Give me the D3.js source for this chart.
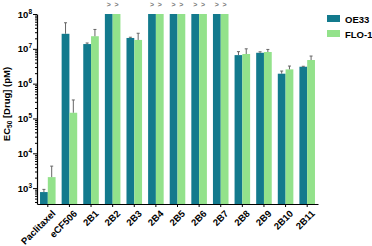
<!DOCTYPE html>
<html>
<head>
<meta charset="utf-8">
<script src="https://cdn.jsdelivr.net/npm/d3@7"></script>
<style>
  body { margin: 0; background: #fff; }
  text { font-family: Arial, "Liberation Sans", sans-serif; font-weight: bold; }
</style>
</head>
<body>
<div id="chart"></div>
<script>
const categories = ['Paclitaxel', 'eCF506', '2B1', '2B2', '2B3', '2B4', '2B5', '2B6', '2B7', '2B8', '2B9', '2B10', '2B11'];
const seriesNames = ['OE33', 'FLO-1'];
const oe33Values = [770, 2.7e7, 1.37e7, 1e8, 2.05e7, 1e8, 1e8, 1e8, 1e8, 6.6e6, 7.7e6, 1.93e6, 3.06e6];
const oe33Upper = [920, 5.6e7, 1.47e7, null, 2.15e7, null, null, null, null, 8.3e6, 8.2e6, 2.3e6, 3.15e6];
const floValues = [2070, 1.46e5, 2.3e7, 1e8, 1.8e7, 1e8, 1e8, 1e8, 1e8, 7.1e6, 8.1e6, 2.57e6, 4.77e6];
const floUpper = [4280, 3.4e5, 3.6e7, null, 2.8e7, null, null, null, null, 1.0e7, 9.6e6, 3.2e6, 6.2e6];
const aboveRange = [false, false, false, true, false, true, true, true, true, false, false, false, false];
const yTicks = [3, 4, 5, 6, 7, 8];

const width = 372, height = 246;
const colors = ['#137a8d', '#93e28b'];

const svg = d3.select('#chart').append('svg')
  .attr('width', width).attr('height', height);

const x = d3.scaleBand()
  .domain(categories)
  .range([37, 318])
  .paddingInner(0.28)
  .paddingOuter(0.14);

const xInner = d3.scaleBand()
  .domain(seriesNames)
  .range([0, x.bandwidth()]);

const y = d3.scaleLog()
  .domain([350, 1e8])
  .range([204, 14]);

const series = [
  { name: 'OE33', values: oe33Values, upper: oe33Upper },
  { name: 'FLO-1', values: floValues, upper: floUpper }
];

series.forEach((s, si) => {
  const g = svg.append('g');
  g.selectAll('rect')
    .data(categories)
    .enter()
    .append('rect')
    .attr('x', d => x(d) + xInner(s.name))
    .attr('width', xInner.bandwidth())
    .attr('y', (d, i) => y(s.values[i]))
    .attr('height', (d, i) => y.range()[0] - y(s.values[i]))
    .attr('fill', colors[si]);

  // upper error bars only
  const eb = g.selectAll('g.err')
    .data(categories.map((c, i) => ({ c, v: s.values[i], u: s.upper[i] })).filter(d => d.u))
    .enter()
    .append('g');
  const cx = d => x(d.c) + xInner(s.name) + xInner.bandwidth() / 2;
  eb.append('line')
    .attr('x1', cx).attr('x2', cx)
    .attr('y1', d => y(d.v)).attr('y2', d => y(d.u))
    .attr('stroke', '#666').attr('stroke-width', 1);
  eb.append('line')
    .attr('x1', d => cx(d) - 1.5).attr('x2', d => cx(d) + 1.5)
    .attr('y1', d => y(d.u)).attr('y2', d => y(d.u))
    .attr('stroke', '#666').attr('stroke-width', 1);

  // ">" for values above the top of the range
  g.selectAll('text.gt')
    .data(categories.filter((c, i) => aboveRange[i]))
    .enter()
    .append('text')
    .attr('x', d => x(d) + xInner(s.name) + xInner.bandwidth() / 2)
    .attr('y', 7)
    .attr('text-anchor', 'middle')
    .attr('font-size', 7)
    .attr('font-weight', 'normal')
    .attr('fill', '#777')
    .text('>');
});

// y axis with minor ticks
const minor = y.ticks().filter(v => Math.abs(Math.log10(v) % 1) > 1e-6);
svg.append('g')
  .attr('transform', 'translate(37,0)')
  .call(d3.axisLeft(y).tickValues(minor).tickSize(2).tickFormat(''))
  .call(g => g.select('.domain').remove())
  .selectAll('.tick line').attr('stroke', '#000');

const yAxis = svg.append('g')
  .attr('transform', 'translate(37,0)')
  .call(d3.axisLeft(y).tickValues(yTicks.map(e => Math.pow(10, e))).tickSize(4).tickSizeOuter(0).tickFormat(''));
yAxis.select('.domain').attr('stroke', '#000').attr('stroke-width', 1.2);
yAxis.selectAll('.tick line').attr('stroke', '#000');

const yLab = svg.append('g');
yTicks.forEach(e => {
  const t = yLab.append('text')
    .attr('x', 32)
    .attr('y', y(Math.pow(10, e)) + 3.5)
    .attr('text-anchor', 'end')
    .attr('font-size', 9.5);
  t.append('tspan').text('10');
  t.append('tspan').attr('font-size', 6.5).attr('dy', -4).text(e);
});

// x axis
const xAxis = svg.append('g')
  .attr('transform', 'translate(0,204)')
  .call(d3.axisBottom(x).tickSize(3).tickSizeOuter(0));
xAxis.select('.domain').attr('stroke', '#000').attr('stroke-width', 1.2);
xAxis.selectAll('.tick line').attr('stroke', '#000');
xAxis.selectAll('.tick text')
  .attr('font-size', 9.5)
  .attr('font-weight', 'bold')
  .attr('fill', '#000')
  .attr('text-anchor', 'end')
  .attr('dx', 0)
  .attr('dy', 0)
  .attr('transform', 'translate(4,6) rotate(-45)');

// y title
svg.append('text')
  .attr('transform', 'translate(10,104) rotate(-90)')
  .attr('text-anchor', 'middle')
  .attr('font-size', 9.5)
  .call(t => {
    t.append('tspan').text('EC');
    t.append('tspan').attr('font-size', 6.5).attr('dy', 2).text('50');
    t.append('tspan').attr('dy', -2).text(' [Drug] (pM)');
  });

// legend
const legend = svg.append('g').attr('transform', 'translate(327,15)');
seriesNames.forEach((n, i) => {
  legend.append('rect')
    .attr('x', 0).attr('y', i * 15)
    .attr('width', 13).attr('height', 7)
    .attr('fill', colors[i]);
  legend.append('text')
    .attr('x', 18).attr('y', i * 15 + 7.5)
    .attr('font-size', 9.5)
    .text(n);
});
</script>
</body>
</html>
